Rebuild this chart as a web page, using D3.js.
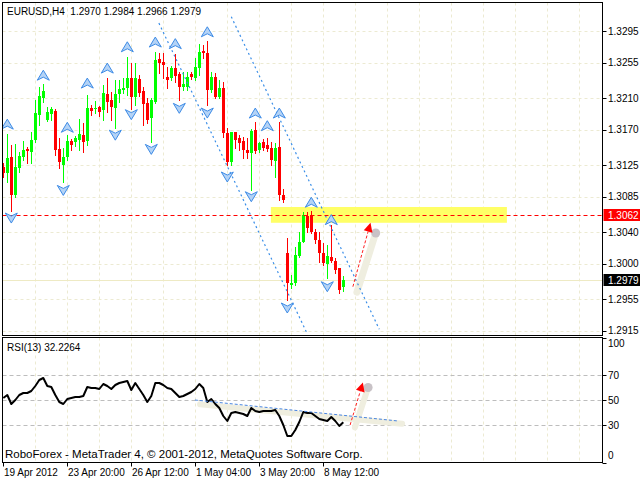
<!DOCTYPE html>
<html><head><meta charset="utf-8">
<script src="https://cdn.jsdelivr.net/npm/d3@7"></script>
<style>
html,body{margin:0;padding:0;background:#fff;}
svg{display:block;}
text{font-family:"Liberation Sans",Arial,sans-serif;fill:#000;}
</style>
</head><body><svg id="c" width="640" height="479"></svg>
<script>
// ---------------- DATA ----------------
const symbol = "EURUSD,H4";
const lastQuote = ["1.2970","1.2984","1.2966","1.2979"];
const opens = [1.3123,1.3115,1.3135,1.3087,1.3121,1.3135,1.3145,1.3142,1.3157,1.3189,
1.3210,1.3182,1.3190,1.3194,1.3145,1.3125,1.3135,1.3156,1.3154,1.3157,
1.3163,1.3156,1.3197,1.3196,1.3199,1.3195,1.3215,1.3208,1.3197,1.3215,
1.3220,1.3223,1.3235,1.3211,1.3234,1.3219,1.3204,1.3185,1.3205,1.3260,
1.3256,1.3237,1.3235,1.3248,1.3240,1.3224,1.3224,1.3240,1.3235,1.3248,
1.3270,1.3267,1.3220,1.3237,1.3211,1.3223,1.3166,1.3129,1.3167,1.3159,
1.3156,1.3144,1.3140,1.3170,1.3144,1.3154,1.3151,1.3147,1.3130,1.3148,
1.3087,1.3014,1.2973,1.2976,1.3010,1.3028,1.3060,1.3062,1.3040,1.3030,
1.3014,1.3000,1.3009,1.3004,1.2995,1.2970];
const highs = [1.3128,1.3164,1.3151,1.3152,1.3142,1.3156,1.3148,1.3167,1.3208,1.3224,
1.3228,1.3199,1.3199,1.3196,1.3159,1.3147,1.3163,1.3158,1.3162,1.3183,
1.3178,1.3214,1.3201,1.3206,1.3200,1.3227,1.3235,1.3218,1.3233,1.3233,
1.3235,1.3262,1.3254,1.3254,1.3239,1.3224,1.3210,1.3210,1.3268,1.3267,
1.3267,1.3249,1.3251,1.3266,1.3243,1.3243,1.3243,1.3243,1.3261,1.3279,
1.3277,1.3282,1.3243,1.3242,1.3233,1.3230,1.3172,1.3167,1.3167,1.3163,
1.3161,1.3159,1.3171,1.3180,1.3154,1.3158,1.3159,1.3154,1.3153,1.3180,
1.3095,1.3033,1.2986,1.3021,1.3040,1.3066,1.3066,1.3067,1.3044,1.3040,
1.3026,1.3024,1.3049,1.3007,1.2995,1.2984];
const lows = [1.3110,1.3104,1.3067,1.3085,1.3116,1.3132,1.3128,1.3128,1.3154,1.3176,
1.3205,1.3181,1.3182,1.3138,1.3121,1.3104,1.3132,1.3144,1.3149,1.3144,
1.3142,1.3151,1.3189,1.3191,1.3187,1.3182,1.3192,1.3182,1.3172,1.3205,
1.3216,1.3214,1.3196,1.3201,1.3213,1.3176,1.3178,1.3154,1.3204,1.3242,
1.3235,1.3223,1.3233,1.3230,1.3208,1.3220,1.3220,1.3234,1.3233,1.3239,
1.3261,1.3201,1.3218,1.3210,1.3210,1.3161,1.3125,1.3125,1.3147,1.3144,
1.3134,1.3134,1.3093,1.3140,1.3142,1.3144,1.3143,1.3125,1.3110,1.3081,
1.3078,1.2954,1.2969,1.2973,1.3009,1.3028,1.3040,1.3039,1.3026,1.3002,
1.2998,1.2982,1.3002,1.2988,1.2963,1.2966];
const closes = [1.3115,1.3134,1.3087,1.3123,1.3137,1.3144,1.3143,1.3157,1.3191,1.3213,
1.3219,1.3192,1.3196,1.3144,1.3129,1.3135,1.3156,1.3151,1.3159,1.3164,
1.3154,1.3197,1.3194,1.3197,1.3192,1.3216,1.3205,1.3199,1.3215,1.3221,
1.3223,1.3235,1.3211,1.3235,1.3216,1.3202,1.3182,1.3208,1.3258,1.3254,
1.3252,1.3233,1.3248,1.3238,1.3224,1.3228,1.3237,1.3237,1.3249,1.3268,
1.3267,1.3220,1.3237,1.3211,1.3223,1.3166,1.3129,1.3167,1.3157,1.3153,
1.3144,1.3140,1.3168,1.3143,1.3153,1.3147,1.3145,1.3132,1.3147,1.3087,
1.3081,1.2976,1.2976,1.3011,1.3028,1.3062,1.3045,1.3040,1.3030,1.3014,
1.3001,1.3010,1.3004,1.2992,1.2967,1.2979];
const rsi = [51.6,54,46.8,50,54,55.6,55.6,57.2,61.2,66,
67.6,61.2,60.4,54,48.4,46.8,50.8,51.6,52.4,52.4,
53.2,60.4,59.6,59.6,58.8,62.8,61.2,58.8,62,63.6,
64.4,65.2,58,63.6,58.8,54,48.4,53.2,63.6,63.6,
62,59.6,58.8,55.6,52.4,53.2,54.8,56.4,58.8,62.8,
59.6,48.4,50.8,46.8,43.6,37.2,33.2,39.6,40.4,39.6,
38.8,37.2,43.6,41.2,40.4,41.2,41.2,41.2,42,37.2,
30,21.2,21.2,26,32.4,40.4,39.6,39.6,37.2,34.8,
34,33.2,36.4,33.2,29.2,32.2264];
const priceTicks = [1.3295,1.3255,1.3210,1.3170,1.3125,1.3085,1.3040,1.3000,1.2955,1.2915];
const rsiTicks = [100,70,50,30,0];
const rsiLevels = [70,50,30];
const timeLabels = ["19 Apr 2012","23 Apr 20:00","26 Apr 12:00","1 May 04:00","3 May 20:00","8 May 12:00"];
const timeLabelIdx = [0,16,32,48,64,80];
const fractalUpIdx = [1,10,16,21,26,31,38,43,51,63,66,69,77,82];
const fractalUpPrice = [1.3177,1.3239,1.3173,1.3229,1.3248,1.3275,1.3281,1.3279,1.3294,1.3191,1.3175,1.3191,1.3078,1.3056];
const fractalDnIdx = [2,15,28,32,37,44,51,56,62,71,81];
const fractalDnPrice = [1.3058,1.3093,1.3163,1.3189,1.3145,1.3197,1.3191,1.3110,1.3085,1.2944,1.2971];
const channelAIdx = [38.9,75.8], channelAPrice = [1.3305,1.29135];
const channelBIdx = [57.0,94.0], channelBPrice = [1.3313,1.2917];
const resistance = 1.3062;
const zoneIdx = [66.9,125.9], zonePrice = [1.3072,1.3052];
const arrowIdx = [87.4,91.8], arrowPrice = [1.2971,1.3052];
const bandIdx = [88.4,93.1], bandPrice = [1.2964,1.3039];
const rsiTrendIdx = [47.9,98.7], rsiTrendVal = [50,33.2];
const rsiBandIdx = [49.2,99.7], rsiBandVal = [46.5,31];
const rsiUpBandIdx = [87.9,91.2], rsiUpBandVal = [28,60];
const rsiArrowIdx = [86.7,89.9], rsiArrowVal = [30,64];
const copyright = "RoboForex - MetaTrader 4, © 2001-2012, MetaQuotes Software Corp.";

// ---------------- LAYOUT ----------------
const svg = d3.select("#c");
const L=2.5, R=602.5, mT=2.5, mB=335.5, rT=337.5, rB=462.5;
const x = d3.scaleLinear().domain([0,150]).range([3.3,603.3]);
const y = d3.scaleLinear().domain([1.2915,1.3295]).range([330.9,31]);
const yr = d3.scaleLinear().domain([0,100]).range([462.5,337.5]);
const px = i => Math.round(x(i));
const gridCol = "#ecead2";

const defs = svg.append("defs");
defs.append("clipPath").attr("id","cm").append("rect").attr("x",L).attr("y",mT).attr("width",R-L).attr("height",mB-mT);
defs.append("clipPath").attr("id","cr").append("rect").attr("x",L).attr("y",rT).attr("width",R-L).attr("height",rB-rT);

const gm = svg.append("g").attr("clip-path","url(#cm)");
const gr = svg.append("g").attr("clip-path","url(#cr)");

const vgrid = d3.range(8,150,8);
gm.selectAll(".vg").data(vgrid).join("line")
  .attr("x1",d=>px(d)+0.5).attr("x2",d=>px(d)+0.5).attr("y1",mT).attr("y2",mB)
  .attr("stroke",gridCol).attr("stroke-dasharray","3,3");
gm.selectAll(".hg").data(priceTicks).join("line")
  .attr("x1",L).attr("x2",R).attr("y1",d=>Math.round(y(d))+0.5).attr("y2",d=>Math.round(y(d))+0.5)
  .attr("stroke",gridCol).attr("stroke-dasharray","3,3");

gm.append("rect")
  .attr("x",x(zoneIdx[0])).attr("width",x(zoneIdx[1])-x(zoneIdx[0]))
  .attr("y",y(zonePrice[0])).attr("height",y(zonePrice[1])-y(zonePrice[0]))
  .attr("fill","#ffff66");

const lastClose = closes[closes.length-1];
gm.append("line").attr("x1",L).attr("x2",R)
  .attr("y1",Math.round(y(lastClose))+0.5).attr("y2",Math.round(y(lastClose))+0.5)
  .attr("stroke","#eeeac4");

gm.append("line")
  .attr("x1",x(bandIdx[0])).attr("y1",y(bandPrice[0])).attr("x2",x(bandIdx[1])).attr("y2",y(bandPrice[1]))
  .attr("stroke","#efeee0").attr("stroke-width",7).attr("stroke-linecap","round");
gm.append("circle").attr("cx",x(bandIdx[1])).attr("cy",y(bandPrice[1])).attr("r",4.5)
  .attr("fill","#c8c2c6");

const idx = d3.range(opens.length);
const col = i => closes[i] >= opens[i] ? "#00ff00" : "#ff0000";
gm.selectAll(".wick").data(idx).join("line")
  .attr("x1",i=>px(i)+0.5).attr("x2",i=>px(i)+0.5)
  .attr("y1",i=>Math.round(y(highs[i]))).attr("y2",i=>Math.round(y(lows[i]))+1)
  .attr("stroke",col).attr("stroke-width",1);
gm.selectAll(".body").data(idx).join("rect")
  .attr("x",i=>px(i)-1).attr("width",3)
  .attr("y",i=>Math.round(y(Math.max(opens[i],closes[i]))))
  .attr("height",i=>Math.max(1,Math.round(y(Math.min(opens[i],closes[i])))-Math.round(y(Math.max(opens[i],closes[i])))))
  .attr("fill",col);

[[channelAIdx,channelAPrice],[channelBIdx,channelBPrice]].forEach(([ci,cp])=>{
  gm.append("line").attr("x1",x(ci[0])).attr("y1",y(cp[0])).attr("x2",x(ci[1])).attr("y2",y(cp[1]))
    .attr("stroke","#3a8ee8").attr("stroke-width",1.2).attr("stroke-dasharray","2,3");
});

gm.append("line").attr("x1",L).attr("x2",R)
  .attr("y1",Math.round(y(resistance))+0.5).attr("y2",Math.round(y(resistance))+0.5)
  .attr("stroke","#ff0000").attr("stroke-width",1.2).attr("stroke-dasharray","4,3");

const upPath = "M0,-5 L6,5 L0,2 L-6,5 Z";
const dnPath = "M0,5 L6,-5 L0,-2 L-6,-5 Z";
gm.selectAll(".fu").data(fractalUpIdx).join("path")
  .attr("d",upPath).attr("transform",(d,k)=>`translate(${x(d)},${y(fractalUpPrice[k])})`)
  .attr("fill","#b4d3f6").attr("stroke","#3d8be6").attr("stroke-width",1);
gm.selectAll(".fd").data(fractalDnIdx).join("path")
  .attr("d",dnPath).attr("transform",(d,k)=>`translate(${x(d)},${y(fractalDnPrice[k])})`)
  .attr("fill","#b4d3f6").attr("stroke","#3d8be6").attr("stroke-width",1);

function redArrow(g,x0,y0,x1,y1){
  const a = Math.atan2(y1-y0,x1-x0), hl=9, hw=4.5;
  const bx = x1 - hl*Math.cos(a), by = y1 - hl*Math.sin(a);
  g.append("line").attr("x1",x0).attr("y1",y0).attr("x2",bx).attr("y2",by)
    .attr("stroke","#ff2020").attr("stroke-dasharray","3,2");
  const nx = -Math.sin(a)*hw, ny = Math.cos(a)*hw;
  g.append("path").attr("d",`M${x1},${y1} L${bx+nx},${by+ny} L${bx-nx},${by-ny} Z`).attr("fill","#ff0000");
}
redArrow(gm,x(arrowIdx[0]),y(arrowPrice[0]),x(arrowIdx[1]),y(arrowPrice[1]));

// ---------------- RSI PANEL ----------------
gr.selectAll(".vg").data(vgrid).join("line")
  .attr("x1",d=>px(d)+0.5).attr("x2",d=>px(d)+0.5).attr("y1",rT).attr("y2",rB)
  .attr("stroke",gridCol).attr("stroke-dasharray","3,3");
gr.selectAll(".lv").data(rsiLevels).join("line")
  .attr("x1",L).attr("x2",R).attr("y1",d=>Math.round(yr(d))+0.5).attr("y2",d=>Math.round(yr(d))+0.5)
  .attr("stroke","#bdbdbd").attr("stroke-dasharray","4,3");
gr.append("line").attr("x1",x(rsiBandIdx[0])).attr("y1",yr(rsiBandVal[0])).attr("x2",x(rsiBandIdx[1])).attr("y2",yr(rsiBandVal[1]))
  .attr("stroke","#efeedf").attr("stroke-width",6).attr("stroke-linecap","round");
gr.append("line").attr("x1",x(rsiUpBandIdx[0])).attr("y1",yr(rsiUpBandVal[0])).attr("x2",x(rsiUpBandIdx[1])).attr("y2",yr(rsiUpBandVal[1]))
  .attr("stroke","#efeedf").attr("stroke-width",6).attr("stroke-linecap","round");
gr.append("circle").attr("cx",x(rsiUpBandIdx[1])).attr("cy",yr(rsiUpBandVal[1])).attr("r",4.5).attr("fill","#c8c2c6");
gr.append("path").datum(rsi)
  .attr("d",d3.line().x((d,i)=>x(i)).y(d=>yr(d)))
  .attr("fill","none").attr("stroke","#000").attr("stroke-width",2).attr("stroke-linejoin","round");
gr.append("line").attr("x1",x(rsiTrendIdx[0])).attr("y1",yr(rsiTrendVal[0])).attr("x2",x(rsiTrendIdx[1])).attr("y2",yr(rsiTrendVal[1]))
  .attr("stroke","#4a86e0").attr("stroke-dasharray","3,2");
redArrow(gr,x(rsiArrowIdx[0]),yr(rsiArrowVal[0]),x(rsiArrowIdx[1]),yr(rsiArrowVal[1]));

// ---------------- FRAMES & AXES ----------------
svg.append("rect").attr("x",L).attr("y",mT).attr("width",R-L).attr("height",mB-mT).attr("fill","none").attr("stroke","#000");
svg.append("rect").attr("x",L).attr("y",rT).attr("width",R-L).attr("height",rB-rT).attr("fill","none").attr("stroke","#000");

const pa = svg.append("g");
pa.selectAll("line").data(priceTicks).join("line")
  .attr("x1",R).attr("x2",R+4).attr("y1",d=>Math.round(y(d))+0.5).attr("y2",d=>Math.round(y(d))+0.5).attr("stroke","#000");
pa.selectAll("text").data(priceTicks).join("text")
  .attr("x",608).attr("y",d=>y(d)+3.5).attr("font-size","10px").text(d=>d.toFixed(4));

function priceTag(v,fill){
  const yy = Math.round(y(v));
  svg.append("rect").attr("x",603.5).attr("y",yy-6).attr("width",37).attr("height",12).attr("fill",fill);
  svg.append("text").attr("x",608).attr("y",yy+3.5).attr("font-size","10px").style("fill","#fff").text(v.toFixed(4));
}
priceTag(resistance,"#ff0000");
priceTag(lastClose,"#000000");

const ra = svg.append("g");
ra.selectAll("line").data(rsiTicks).join("line")
  .attr("x1",R).attr("x2",R+4).attr("y1",d=>Math.round(yr(d))+0.5).attr("y2",d=>Math.round(yr(d))+0.5).attr("stroke","#000");
ra.selectAll("text").data(rsiTicks).join("text")
  .attr("x",608).attr("y",d=> d===100 ? yr(d)+9.5 : d===0 ? yr(d)-3.5 : yr(d)+3.5)
  .attr("font-size","10px").text(d=>d);

const ta = svg.append("g");
ta.selectAll("line").data(timeLabelIdx).join("line")
  .attr("x1",d=>px(d)+0.5).attr("x2",d=>px(d)+0.5).attr("y1",rB).attr("y2",rB+4).attr("stroke","#000");
ta.selectAll("text").data(timeLabels).join("text")
  .attr("x",(d,k)=>px(timeLabelIdx[k])+1).attr("y",476).attr("font-size","10px").text(d=>d);

svg.append("text").attr("x",7).attr("y",14.5).attr("font-size","10px").style("white-space","pre")
  .text(`${symbol}  ${lastQuote.join(" ")}`);
svg.append("text").attr("x",7).attr("y",351).attr("font-size","10px")
  .text(`RSI(13) ${rsi[rsi.length-1].toFixed(4)}`);
svg.append("text").attr("x",5).attr("y",458).attr("font-size","11.5px").text(copyright);
</script>
</body></html>
